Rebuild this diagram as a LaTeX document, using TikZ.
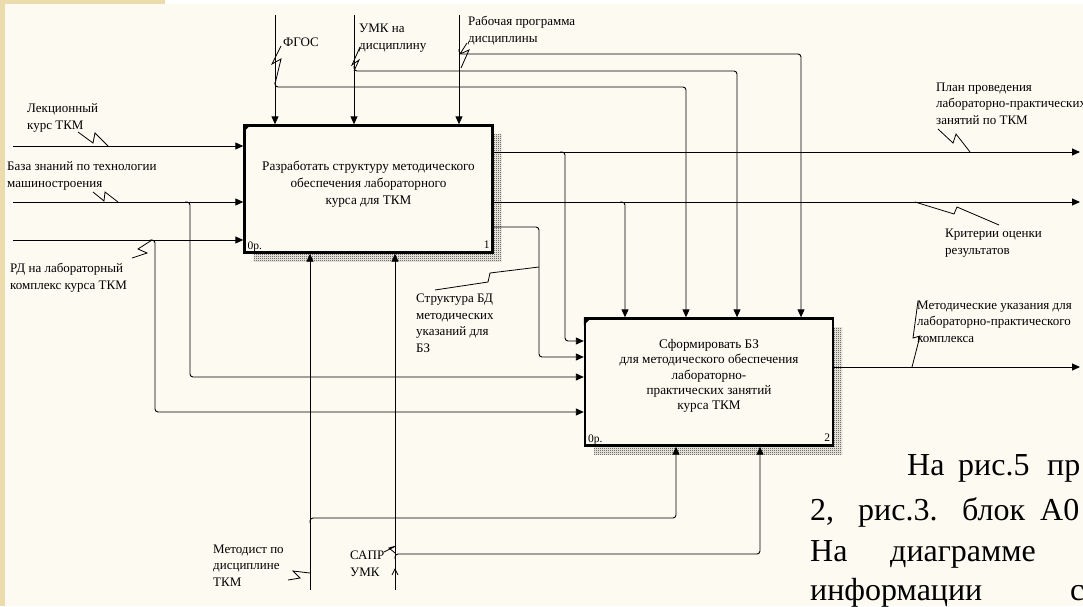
\documentclass[tikz,border=0pt]{standalone}
\usepackage{fontspec}
\setmainfont{Liberation Serif}
\usetikzlibrary{arrows.meta,shadows,patterns}
\definecolor{slidebg}{RGB}{253,250,241}
\definecolor{slideedge}{RGB}{236,219,172}
\pgfdeclarepatternformonly{checker}{\pgfpointorigin}{\pgfpoint{2pt}{2pt}}{\pgfpoint{2pt}{2pt}}{%
  \pgfpathrectangle{\pgfpointorigin}{\pgfpoint{1pt}{1pt}}%
  \pgfpathrectangle{\pgfpoint{1pt}{1pt}}{\pgfpoint{1pt}{1pt}}%
  \pgfusepath{fill}}
\tikzset{
  func/.style={draw,line width=2.4pt,fill=slidebg,inner sep=0pt,
    minimum width=248pt,minimum height=127pt,
    drop shadow={opacity=1,shadow xshift=9pt,shadow yshift=-9pt,
      pattern=checker,pattern color=black!85}},
  functext/.style={align=center,inner sep=0pt,font=\fontsize{13.2}{17}\selectfont},
  flow/.style={line width=0.9pt,rounded corners=3pt,-{Triangle[length=8pt,width=7pt]}},
  tilde/.style={line width=0.8pt},
  lbl/.style={align=left,anchor=base west,inner sep=0pt,font=\fontsize{13}{16.5}\selectfont},
  num/.style={inner sep=0pt,font=\fontsize{11.5}{12}\selectfont},
  slide/.style={anchor=base west,inner sep=0pt,font=\fontsize{32}{40}\selectfont}
}
\begin{document}
\begin{tikzpicture}[x=1pt,y=-1pt]
% slide
\fill[slidebg] (0,0) rectangle (1083,606);
\fill[slideedge] (0,0) rectangle (5,606);
\fill[slideedge] (0,0) rectangle (165,4);
\fill[white] (165,0) rectangle (1083,4);
\useasboundingbox (0,0) rectangle (1083,606);

% functions
\node[func] (a1) at (368.5,189) {};
\node[func] (a2) at (709,382) {};
\node[functext] (a1t) at ([yshift=5pt]a1.center)
  {Разработать структуру методического\\обеспечения лабораторного\\курса для ТКМ};
\node[functext,font=\fontsize{13.2}{15.3}\selectfont] (a2t) at ([yshift=6pt]a2.center)
  {Сформировать БЗ\\для методического обеспечения\\лабораторно-\\практических занятий\\курса ТКМ};
\foreach \b in {a1,a2}
  \fill (\b.north west) -- ++(8,0) -- ++(-8,8) -- cycle;
\node[num,anchor=base west] (a1n) at ([xshift=4pt,yshift=4pt]a1.south west) {0р.};
\node[num,anchor=base east] (a1k) at ([xshift=-4pt,yshift=5pt]a1.south east) {1};
\node[num,anchor=base west] (a2n) at ([xshift=4pt,yshift=4pt]a2.south west) {0р.};
\node[num,anchor=base east] (a2k) at ([xshift=-4pt,yshift=5pt]a2.south east) {2};

% free ends and levels
\coordinate (inL) at (13,146);
\coordinate (inB) at (13,202);
\coordinate (inR) at (13,240);
\coordinate (ctF) at (275,15);
\coordinate (ctU) at (354,15);
\coordinate (ctP) at (459,15);
\coordinate (mcM) at (310,590);
\coordinate (mcS) at (395,590);
\coordinate (outP) at (1080,152);
\coordinate (outK) at (1080,202);
\coordinate (outU) at (1080,367);
\coordinate (yS) at (0,227);
\coordinate (yE1) at (0,341);
\coordinate (yE2) at (0,357);
\coordinate (yE3) at (0,377);
\coordinate (yE4) at (0,412);

% branch points
\coordinate (jB) at (190,202);
\coordinate (jR) at (155,240);
\coordinate (jF) at (275,87);
\coordinate (jU) at (354,71);
\coordinate (jP) at (459,54);
\coordinate (jM) at (310,518);
\coordinate (jS) at (395,554);
\coordinate (jO1) at (565,152);
\coordinate (jO2) at (625,202);
\coordinate (kS) at (539,227);
\coordinate (xF) at (686,0);
\coordinate (xU) at (737,0);
\coordinate (xP) at (801,0);
\coordinate (xM) at (676,0);
\coordinate (xS) at (760,0);

% inputs, controls, mechanisms of a1
\draw[flow] (inL) -- (inL -| a1.west);
\draw[flow] (inB) -- (inB -| a1.west);
\draw[flow] (inR) -- (inR -| a1.west);
\draw[flow] (ctF) -- (ctF |- a1.north);
\draw[flow] (ctU) -- (ctU |- a1.north);
\draw[flow] (ctP) -- (ctP |- a1.north);
\draw[flow] (mcM) -- (mcM |- a1.south);
\draw[flow] (mcS) -- (mcS |- a1.south);

% outputs
\draw[flow] (outP -| a1.east) -- (outP);
\draw[flow] (outK -| a1.east) -- (outK);
\draw[flow] (a1.east |- yS) -- (kS) -- (kS |- yE2) -- (a2.west |- yE2);
\draw[flow] (outU -| a2.east) -- (outU);

% branches to a2
\draw[flow] ([xshift=-5pt]jB) -- (jB) -- (jB |- yE3) -- (a2.west |- yE3);
\draw[flow] ([xshift=-5pt]jR) -- (jR) -- (jR |- yE4) -- (a2.west |- yE4);
\draw[flow] ([xshift=-5pt]jO1) -- (jO1) -- (jO1 |- yE1) -- (a2.west |- yE1);
\draw[flow] ([xshift=-5pt]jO2) -- (jO2) -- (jO2 |- a2.north);
\draw[flow] ([yshift=5pt]jF) -- (jF) -- (jF -| xF) -- (xF |- a2.north);
\draw[flow] ([yshift=5pt]jU) -- (jU) -- (jU -| xU) -- (xU |- a2.north);
\draw[flow] ([yshift=5pt]jP) -- (jP) -- (jP -| xP) -- (xP |- a2.north);
\draw[flow] ([yshift=-5pt]jM) -- (jM) -- (jM -| xM) -- (xM |- a2.south);
\draw[flow] ([yshift=-5pt]jS) -- (jS) -- (jS -| xS) -- (xS |- a2.south);

% labels (anchored at the last line)
\node[lbl] (tLek) at (27,129) {Лекционный\\курс ТКМ};
\node[lbl] (tBaz) at (7,187) {База знаний по технологии\\машиностроения};
\node[lbl] (tRD) at (10,289) {РД на лабораторный\\комплекс курса ТКМ};
\node[lbl] (tFG) at (283,46) {ФГОС};
\node[lbl] (tUMK) at (359,49) {УМК на\\дисциплину};
\node[lbl] (tRP) at (468,42) {Рабочая программа\\дисциплины};
\node[lbl] (tPlan) at (936,124) {План проведения\\лабораторно-практических\\занятий по ТКМ};
\node[lbl] (tKrit) at (945,254) {Критерии оценки\\результатов};
\node[lbl] (tStr) at (416,352) {Структура БД\\методических\\указаний для\\БЗ};
\node[lbl] (tMet) at (213,586) {Методист по\\дисциплине\\ТКМ};
\node[lbl] (tSapr) at (350,576) {САПР\\УМК};
\node[lbl] (tMU) at (917,342) {Методические указания для\\лабораторно-практического\\комплекса};

% tildes
\draw[tilde] (78,132) -- (93,143) -- (95,133) -- (108,146);
\draw[tilde] (93,192) -- (104,201) -- (105,192) -- (118,202);
\draw[tilde] (132,258) -- (147,253) -- (138,249) -- (152,240);
\draw[tilde] (281,46) -- (272,64) -- (281,59) -- (275,84);
\draw[tilde] (360,47) -- (352,65) -- (359,60) -- (354,71);
\draw[tilde] (467,43) -- (460,54) -- (469,50) -- (461,68);
\draw[tilde] (938,129) -- (953,143) -- (956,134) -- (970,152);
\draw[tilde] (915,202) -- (954,214) -- (957,207) -- (999,225);
\draw[tilde] (539,267) -- (490,273) -- (488,282) -- (435,290);
\draw[tilde] (288,580) -- (300,578) -- (293,571) -- (310,573);
\draw[tilde] (384,552) -- (396,546) -- (389,548) -- (395,553);
\draw[tilde] (918,301) -- (913,338) -- (920,336) -- (912,367);
\draw[tilde] (392,575) -- (395,569) -- (398,575);

% slide text
\foreach \w/\x in {На/907,рис.5/958,пр/1047}
  \node[slide] (r1-\x) at (\x,475) {\w};
\foreach \w/\x in {{2,}/810,рис.3./858,блок/962,А0/1040}
  \node[slide] (r2-\x) at (\x,520) {\w};
\foreach \w/\x in {На/810,диаграмме/890}
  \node[slide] (r3-\x) at (\x,561) {\w};
\foreach \w/\x in {информации/810,с/1070}
  \node[slide] (r4-\x) at (\x,600) {\w};
\end{tikzpicture}
\end{document}
